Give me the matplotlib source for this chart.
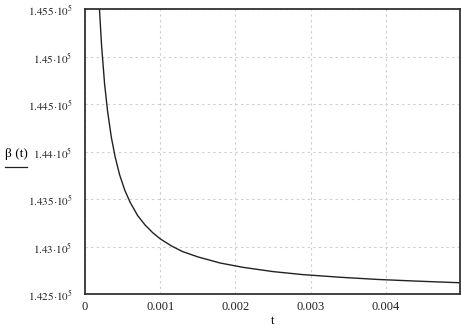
import matplotlib
matplotlib.use("Agg")
from matplotlib import pyplot as plt
from matplotlib.lines import Line2D

plt.rcParams['font.family'] = 'Liberation Serif'
plt.rcParams['mathtext.fontset'] = 'stix'

# values
t = [0.00018, 0.00019, 0.00022, 0.00026, 0.0003, 0.00035, 0.0004, 0.00046,
     0.00053, 0.0006, 0.0007, 0.0008, 0.0009, 0.001, 0.00115, 0.0013,
     0.0015, 0.0018, 0.0021, 0.0025, 0.0029, 0.0034, 0.0039, 0.0044, 0.005]
beta = [145700, 145535, 145125, 144720, 144430, 144155, 143950, 143760,
        143595, 143470, 143330, 143230, 143150, 143085, 143010, 142950,
        142895, 142830, 142785, 142740, 142708, 142680, 142657, 142640,
        142622]

x_ticks = [0, 0.001, 0.002, 0.003, 0.004]
x_labels = ['0', '0.001', '0.002', '0.003', '0.004']
y_ticks = [142500, 143000, 143500, 144000, 144500, 145000, 145500]
y_labels = [r'$1.425{\cdot}10^5$', r'$1.43{\cdot}10^5$', r'$1.435{\cdot}10^5$',
            r'$1.44{\cdot}10^5$', r'$1.445{\cdot}10^5$', r'$1.45{\cdot}10^5$',
            r'$1.455{\cdot}10^5$']

fig = plt.figure(figsize=(4.61, 3.26), dpi=100)
ax = fig.add_axes([0.1844, 0.097, 0.8136, 0.874])

ax.plot(t, beta, color='#222222', lw=1.0)
ax.set_xlim(0, 0.00499)
ax.set_ylim(142500, 145500)

ax.set_xticks(x_ticks)
ax.set_xticklabels(x_labels, fontsize=9)
ax.set_yticks(y_ticks)
ax.set_yticklabels(y_labels, fontsize=8)
ax.tick_params(length=0, pad=9, colors='#222222')
ax.tick_params(axis='x', pad=5)

ax.grid(True, color='#cccccc', ls=(0, (2, 3)), lw=0.8)
for s in ax.spines.values():
    s.set_linewidth(1.3)
    s.set_color('#333333')

ax.set_xlabel('t', fontsize=9, labelpad=1)

# y label: beta(t) with underline, left of the tick labels
fig.text(0.035, 0.527, 'β (t)', fontsize=9.5, ha='center', va='center')
fig.add_artist(Line2D([0.011, 0.058], [0.487, 0.487], color='#222222', lw=0.9))

fig.savefig('out.png', dpi=100)
